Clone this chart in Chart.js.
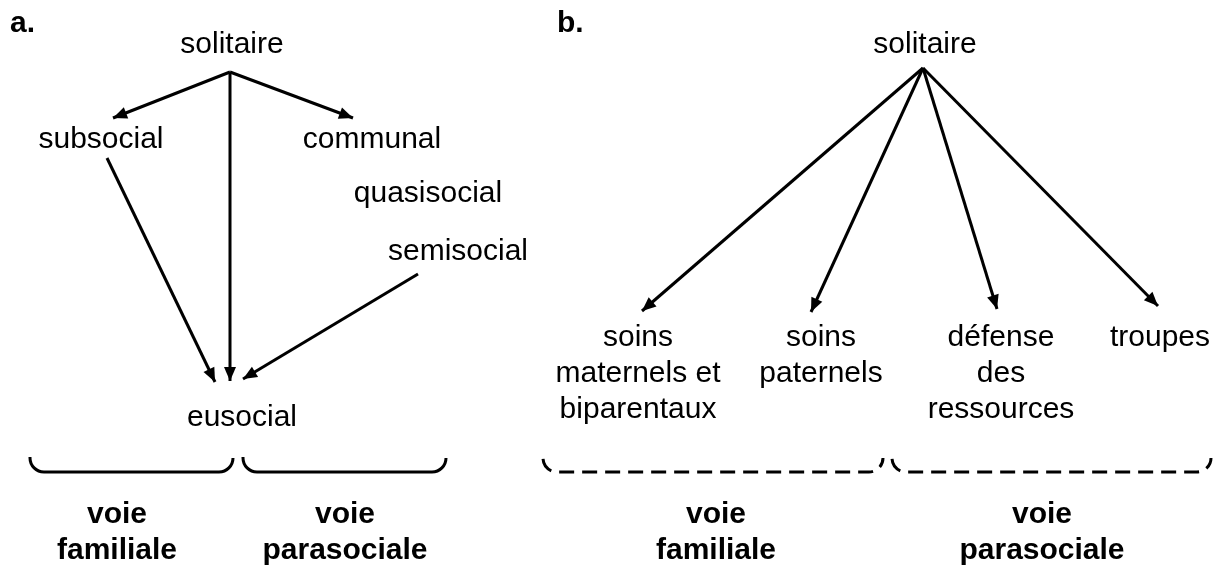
<!DOCTYPE html>
<html>
<head>
<meta charset="utf-8">
<script src="https://cdn.jsdelivr.net/npm/chart.js@4/dist/chart.umd.min.js"></script>
<style>
  html,body{margin:0;padding:0;background:#fff;}
  #wrap{position:relative;width:1223px;height:565px;}
</style>
</head>
<body>
<div id="wrap"><canvas id="diagram"></canvas></div>
<script>
'use strict';

/* ── panel a : noeuds et flèches ── */
var aNodes  = ['solitaire','subsocial','communal','quasisocial','semisocial','eusocial'];
var aNodeX  = [232, 101, 372, 428, 458, 242];
var aNodeY  = [53, 148, 148, 202, 260, 426];
var aFromX  = [230, 230, 230, 107, 418];
var aFromY  = [72, 72, 72, 158, 274];
var aToX    = [113, 353, 230, 215, 243];
var aToY    = [118, 118, 381, 382, 379];

/* ── panel b ── */
var bNodes  = [['solitaire'],['soins','maternels et','biparentaux'],['soins','paternels'],['défense','des','ressources'],['troupes']];
var bNodeX  = [925, 638, 821, 1001, 1160];
var bNodeY  = [53, 346, 346, 346, 346];
var bFromX  = [923, 923, 923, 923];
var bFromY  = [68, 68, 68, 68];
var bToX    = [642, 811, 997, 1158];
var bToY    = [311, 312, 309, 306];

/* ── accolades + voies ── */
var braceX0   = [30, 243, 543, 892];
var braceX1   = [233, 446, 883, 1211];
var braceDash = [false, false, true, true];
var braceTop  = 457, braceBot = 472;
var voieX     = [117, 345, 716, 1042];
var voieLines = [['voie','familiale'],['voie','parasociale'],['voie','familiale'],['voie','parasociale']];
var voieY     = 523;
var panelTags = ['a.','b.'];
var panelTagX = [10, 557];
var panelTagY = 32;

var LINE_H = 36;

function arrowSets(fx,fy,tx,ty){
  var out=[];
  for(var i=0;i<fx.length;i++){
    out.push({type:'scatter',showLine:true,data:[{x:fx[i],y:fy[i]},{x:tx[i],y:ty[i]}],
      borderColor:'#000',borderWidth:3,pointRadius:0,arrow:true});
  }
  return out;
}

var datasets=arrowSets(aFromX,aFromY,aToX,aToY).concat(arrowSets(bFromX,bFromY,bToX,bToY));

var diagramPlugin={
  id:'diagram',
  afterDatasetsDraw:function(chart){
    var c=chart.ctx, sx=chart.scales.x, sy=chart.scales.y;
    function px(v){return sx.getPixelForValue(v);}
    function py(v){return sy.getPixelForValue(v);}
    c.save();
    // pointes de flèche
    chart.data.datasets.forEach(function(ds){
      if(!ds.arrow)return;
      var p0=ds.data[0],p1=ds.data[1];
      var x0=px(p0.x),y0=py(p0.y),x1=px(p1.x),y1=py(p1.y);
      var ang=Math.atan2(y1-y0,x1-x0),L=14,W=6;
      c.fillStyle='#000';
      c.beginPath();
      c.moveTo(x1,y1);
      c.lineTo(x1-L*Math.cos(ang)+W*Math.sin(ang),y1-L*Math.sin(ang)-W*Math.cos(ang));
      c.lineTo(x1-L*Math.cos(ang)-W*Math.sin(ang),y1-L*Math.sin(ang)+W*Math.cos(ang));
      c.closePath();c.fill();
    });
    // textes
    c.fillStyle='#000';c.textAlign='center';c.textBaseline='alphabetic';
    c.font='30px "Liberation Sans", Arial, sans-serif';
    for(var i=0;i<aNodes.length;i++)c.fillText(aNodes[i],px(aNodeX[i]),py(aNodeY[i]));
    for(var j=0;j<bNodes.length;j++){
      for(var k=0;k<bNodes[j].length;k++)c.fillText(bNodes[j][k],px(bNodeX[j]),py(bNodeY[j])+k*LINE_H);
    }
    c.font='bold 30px "Liberation Sans", Arial, sans-serif';
    for(var v=0;v<voieX.length;v++){
      for(var m=0;m<voieLines[v].length;m++)c.fillText(voieLines[v][m],px(voieX[v]),py(voieY)+m*LINE_H);
    }
    c.textAlign='left';
    for(var t=0;t<panelTags.length;t++)c.fillText(panelTags[t],px(panelTagX[t]),py(panelTagY));
    // accolades
    c.strokeStyle='#000';c.lineWidth=3;c.lineCap='butt';
    var r=14;
    for(var b=0;b<braceX0.length;b++){
      var x0=px(braceX0[b]),x1=px(braceX1[b]),top=py(braceTop),bot=py(braceBot);
      c.setLineDash(braceDash[b]?[15,8]:[]);
      c.lineDashOffset=braceDash[b]?-2:0;
      c.beginPath();
      c.moveTo(x0,top);
      c.arcTo(x0,bot,x0+r,bot,r);
      c.lineTo(x1-r,bot);
      c.arcTo(x1,bot,x1,top,r);
      c.stroke();
    }
    c.restore();
  }
};

new Chart(document.getElementById('diagram'),{
  type:'scatter',
  data:{datasets:datasets},
  options:{
    responsive:true,maintainAspectRatio:false,animation:false,
    layout:{padding:0},
    plugins:{legend:{display:false},tooltip:{enabled:false}},
    scales:{
      x:{type:'linear',min:0,max:1223,display:false},
      y:{type:'linear',min:0,max:565,reverse:true,display:false}
    }
  },
  plugins:[diagramPlugin]
});
</script>
</body>
</html>
